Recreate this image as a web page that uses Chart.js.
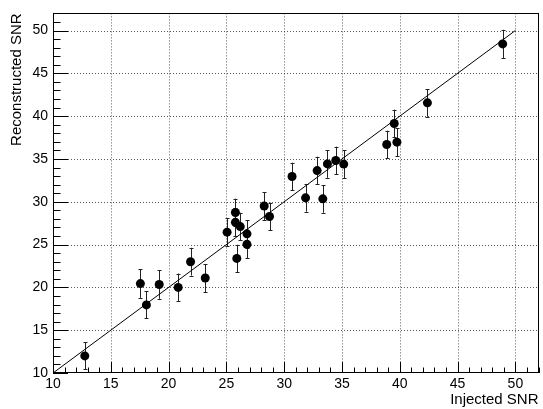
<!DOCTYPE html>
<html>
<head>
<meta charset="utf-8">
<script src="https://cdn.jsdelivr.net/npm/chart.js@4/dist/chart.umd.min.js"></script>
<style>
html,body{margin:0;padding:0;background:#fff;}
#c{display:block;}
</style>
</head>
<body>
<canvas id="c" width="543" height="409"></canvas>
<script>
// ---- data ----
const injectedSNR = [12.75, 17.56, 18.08, 19.19, 20.83, 21.9, 23.17, 25.06, 25.78, 25.78, 25.9, 26.2, 26.78, 26.78, 28.27, 28.73, 30.68, 31.85, 32.85, 33.34, 33.74, 34.46, 35.15, 38.87, 39.52, 39.75, 42.39, 48.9];
const reconstructedSNR = [12.0, 20.44, 17.95, 20.33, 20.0, 23.0, 21.09, 26.45, 28.74, 27.6, 23.38, 27.1, 26.25, 25.03, 29.5, 28.28, 32.95, 30.46, 33.64, 30.34, 34.42, 34.82, 34.4, 36.69, 39.14, 36.96, 41.55, 48.44];
const reconstructedErr = [1.57, 1.66, 1.57, 1.66, 1.62, 1.62, 1.62, 1.62, 1.62, 1.62, 1.6, 1.62, 1.62, 1.62, 1.62, 1.62, 1.62, 1.62, 1.62, 1.62, 1.62, 1.62, 1.62, 1.62, 1.62, 1.62, 1.62, 1.64];
const diagonalLine = [10, 50];
const axisMin = 10, axisMax = 52;
const majorStep = 5, minorStep = 1;

const points = injectedSNR.map((x, i) => ({x: x, y: reconstructedSNR[i]}));
const linePts = diagonalLine.map(v => ({x: v, y: v}));

const FONT = "'Liberation Sans', Arial, Helvetica, sans-serif";

const rootStyle = {
  id: 'rootStyle',
  beforeDatasetsDraw(chart) {
    const {ctx, chartArea: a, scales: {x, y}} = chart;
    ctx.save();
    // dotted grid
    ctx.strokeStyle = 'rgba(0,0,0,0.65)';
    ctx.lineWidth = 1;
    ctx.setLineDash([1, 2]);
    for (let v = axisMin + majorStep; v <= axisMax; v += majorStep) {
      const px = Math.round(x.getPixelForValue(v)) + 0.5;
      ctx.beginPath(); ctx.moveTo(px, a.top); ctx.lineTo(px, a.bottom); ctx.stroke();
      const py = Math.round(y.getPixelForValue(v)) + 0.5;
      ctx.beginPath(); ctx.moveTo(a.left, py); ctx.lineTo(a.right, py); ctx.stroke();
    }
    ctx.setLineDash([]);
    // error bars
    ctx.strokeStyle = '#222';
    ctx.lineWidth = 1;
    points.forEach((p, i) => {
      const px = Math.round(x.getPixelForValue(p.x)) + 0.5;
      const y1 = y.getPixelForValue(p.y - reconstructedErr[i]);
      const y2 = y.getPixelForValue(p.y + reconstructedErr[i]);
      ctx.beginPath();
      ctx.moveTo(px, y1); ctx.lineTo(px, y2);
      ctx.moveTo(px - 2, Math.round(y1) + 0.5); ctx.lineTo(px + 2, Math.round(y1) + 0.5);
      ctx.moveTo(px - 2, Math.round(y2) + 0.5); ctx.lineTo(px + 2, Math.round(y2) + 0.5);
      ctx.stroke();
    });
    ctx.restore();
  },
  afterDraw(chart) {
    const {ctx, chartArea: a, scales: {x, y}} = chart;
    ctx.save();
    ctx.strokeStyle = '#000';
    ctx.lineWidth = 1;
    // frame
    ctx.strokeRect(Math.round(a.left) + 0.5, Math.round(a.top) + 0.5, Math.round(a.right - a.left) - 1, Math.round(a.bottom - a.top) - 1);
    // ticks
    ctx.beginPath();
    for (let v = axisMin; v <= axisMax + 1e-9; v += minorStep) {
      const major = (Math.abs((v - axisMin) % majorStep) < 1e-9);
      const px = Math.round(x.getPixelForValue(v)) + 0.5;
      const lx = major ? 11 : 5.5;
      ctx.moveTo(px, a.bottom); ctx.lineTo(px, a.bottom - lx);
      const py = Math.round(y.getPixelForValue(v)) + 0.5;
      const ly = major ? 15 : 7.5;
      ctx.moveTo(a.left, py); ctx.lineTo(a.left + ly, py);
    }
    ctx.stroke();
    ctx.restore();
  }
};

new Chart(document.getElementById('c'), {
  type: 'scatter',
  data: {
    datasets: [
      {
        data: points,
        backgroundColor: '#000',
        borderColor: '#000',
        borderWidth: 0,
        pointRadius: 4.5,
        pointHoverRadius: 4.5,
        order: 0
      },
      {
        data: linePts,
        showLine: true,
        borderColor: '#000',
        borderWidth: 1,
        pointRadius: 0,
        fill: false,
        order: 1
      }
    ]
  },
  options: {
    responsive: false,
    animation: false,
    devicePixelRatio: 1,
    layout: {padding: {top: 7, right: 1, left: 0, bottom: 0}},
    plugins: {legend: {display: false}, tooltip: {enabled: false}},
    scales: {
      x: {
        type: 'linear', position: 'bottom',
        min: axisMin, max: axisMax,
        grid: {display: false, drawTicks: false, tickLength: 0},
        border: {display: false},
        ticks: {stepSize: majorStep, includeBounds: false, color: '#000', padding: 3, maxRotation: 0, font: {family: FONT, size: 14}},
        title: {display: true, text: 'Injected SNR', align: 'end', color: '#000', padding: {top: 0, bottom: 0}, font: {family: FONT, size: 15}},
        afterFit(s) { s.height = 36; }
      },
      y: {
        type: 'linear', position: 'left',
        min: axisMin, max: axisMax,
        grid: {display: false, drawTicks: false, tickLength: 0},
        border: {display: false},
        ticks: {stepSize: majorStep, includeBounds: false, color: '#000', padding: 5, font: {family: FONT, size: 14}},
        title: {display: true, text: 'Reconstructed SNR', align: 'end', color: '#000', padding: {top: 8, bottom: 0}, font: {family: FONT, size: 15}},
        afterFit(s) { s.width = 53; }
      }
    }
  },
  plugins: [rootStyle]
});
</script>
</body>
</html>
